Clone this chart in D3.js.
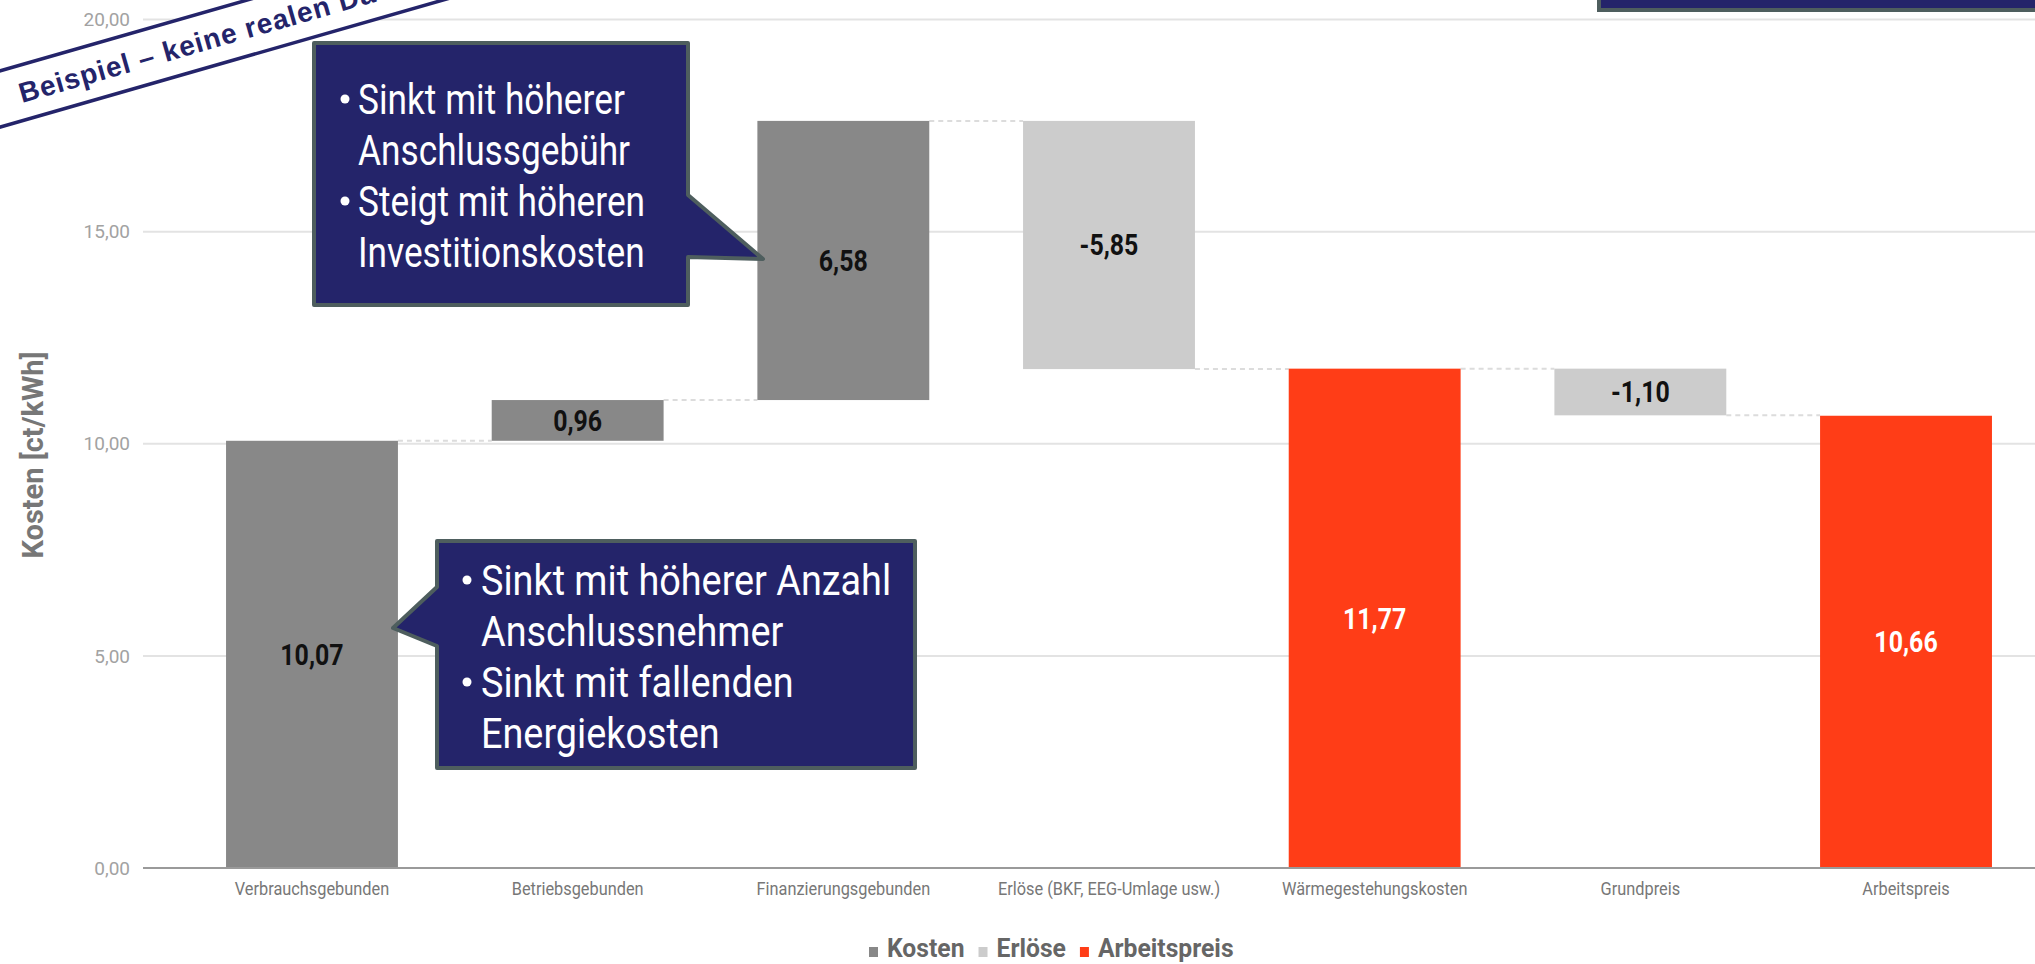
<!DOCTYPE html>
<html>
<head>
<meta charset="utf-8">
<script src="https://cdn.jsdelivr.net/npm/d3@7"></script>
<style>
  html, body { margin: 0; padding: 0; background: #fff; }
  svg { display: block; font-family: Roboto, "Noto Sans", sans-serif; }
</style>
</head>
<body>
<div id="chart"></div>
<script>
// data
const categories = ["Verbrauchsgebunden", "Betriebsgebunden", "Finanzierungsgebunden",
  "Erlöse (BKF, EEG-Umlage usw.)", "Wärmegestehungskosten", "Grundpreis", "Arbeitspreis"];
const values = [10.07, 0.96, 6.58, -5.85, 11.77, -1.10, 10.66];
const kinds = ["Kosten", "Kosten", "Kosten", "Erlöse", "Arbeitspreis", "Erlöse", "Arbeitspreis"];
const isTotal = [false, false, false, false, true, false, true];
const seriesNames = ["Kosten", "Erlöse", "Arbeitspreis"];
const seriesColors = ["#888888", "#cccccc", "#ff3d17"];
const yTicks = [0, 5, 10, 15, 20];
const callout1 = ["Sinkt mit höherer", "Anschlussgebühr", "Steigt mit höheren", "Investitionskosten"];
const callout2 = ["Sinkt mit höherer Anzahl", "Anschlussnehmer", "Sinkt mit fallenden", "Energiekosten"];

const W = 2035, H = 964;
const navy = "#24246a", slate = "#4e5e5e";
const squeeze = 0.86; // fake condensed font

const svg = d3.select("#chart").append("svg")
  .attr("width", W).attr("height", H);

// waterfall steps
let running = 0;
const bars = categories.map((c, i) => {
  let start, end;
  if (isTotal[i]) { start = 0; end = values[i]; }
  else { start = running; end = running + values[i]; }
  running = end;
  return { cat: c, value: values[i], kind: kinds[i], start, end };
});

const x = d3.scaleBand().domain(categories)
  .range([183, 2035]).paddingInner(0.353).paddingOuter(0.162);
const y = d3.scaleLinear().domain([0, 20]).range([868, 19.5]);
const color = d3.scaleOrdinal().domain(seriesNames).range(seriesColors);
const fmt = v => v.toFixed(2).replace(".", ",");

function condensed(sel, px, py, str, sx = squeeze) {
  return sel.append("text")
    .attr("transform", `translate(${px},${py}) scale(${sx},1)`)
    .text(str);
}

// gridlines
svg.append("g").selectAll("line")
  .data(yTicks.filter(d => d > 0))
  .join("line")
  .attr("x1", 143).attr("x2", W)
  .attr("y1", d => y(d)).attr("y2", d => y(d))
  .attr("stroke", "#e3e3e3").attr("stroke-width", 2);

// tick labels
svg.append("g").selectAll("text")
  .data(yTicks)
  .join("text")
  .attr("x", 130).attr("y", d => y(d))
  .attr("dy", "0.35em")
  .attr("text-anchor", "end")
  .attr("fill", "#a2a2a2")
  .style("font-size", "19px")
  .text(d => fmt(d));

// connectors
const conn = svg.append("g");
bars.slice(0, -1).forEach((b, i) => {
  const level = b.end;
  conn.append("line")
    .attr("x1", x(b.cat) + x.bandwidth()).attr("x2", x(categories[i + 1]))
    .attr("y1", y(level)).attr("y2", y(level))
    .attr("stroke", "#dcdcdc").attr("stroke-width", 2)
    .attr("stroke-dasharray", "5,4");
});

// bars
svg.append("g").selectAll("rect")
  .data(bars)
  .join("rect")
  .attr("x", d => x(d.cat))
  .attr("width", x.bandwidth())
  .attr("y", d => y(Math.max(d.start, d.end)))
  .attr("height", d => Math.abs(y(d.start) - y(d.end)))
  .attr("fill", d => color(d.kind));

// baseline
svg.append("line")
  .attr("x1", 143).attr("x2", W)
  .attr("y1", y(0)).attr("y2", y(0))
  .attr("stroke", "#9a9a9a").attr("stroke-width", 2);

// value labels
const vl = svg.append("g")
  .style("font-size", "29px").style("font-weight", "700")
  .attr("text-anchor", "middle");
bars.forEach(b => {
  condensed(vl, x(b.cat) + x.bandwidth() / 2, (y(b.start) + y(b.end)) / 2, fmt(b.value))
    .attr("dy", "0.36em")
    .attr("fill", b.kind === "Arbeitspreis" ? "#ffffff" : "#111111");
});

// x labels
const xl = svg.append("g")
  .style("font-size", "19px").attr("fill", "#777777")
  .attr("text-anchor", "middle");
categories.forEach(c => {
  condensed(xl, x(c) + x.bandwidth() / 2, 888, c).attr("dy", "0.35em");
});

// y axis title
svg.append("text")
  .attr("transform", "translate(33,455) rotate(-90)")
  .attr("text-anchor", "middle").attr("dy", "0.35em")
  .attr("fill", "#777777")
  .style("font-size", "29px").style("font-weight", "700")
  .text("Kosten [ct/kWh]");

// legend
const lg = svg.append("g").style("font-size", "26px").style("font-weight", "700");
const lsx = 0.95;
let lx = 869;
seriesNames.forEach((s, i) => {
  lg.append("rect").attr("x", lx).attr("y", 947).attr("width", 9).attr("height", 10)
    .attr("fill", seriesColors[i]);
  const t = condensed(lg, lx + 18, 957, s, lsx).attr("fill", "#666666");
  lx += 18 + t.node().getComputedTextLength() * lsx + 14;
});

// callouts
function callout(path, lines, tx, bx, y0, sx) {
  const g = svg.append("g");
  g.append("path").attr("d", path)
    .attr("fill", navy).attr("stroke", slate)
    .attr("stroke-width", 4).attr("stroke-linejoin", "round");
  lines.forEach((l, i) => {
    const by = y0 + i * 51;
    if (i % 2 === 0) {
      g.append("circle").attr("cx", bx).attr("cy", by - 15).attr("r", 4.5).attr("fill", "#fff");
    }
    condensed(g, tx, by, l, sx).attr("fill", "#fff").style("font-size", "42px");
  });
}
callout("M314,43 H688 V195 L763,259 L688,257 V305 H314 Z", callout1, 358, 345, 114, 0.84);
callout("M437,541 H915 V768 H437 V646 L393,628 L437,587 Z", callout2, 481, 467, 595, 0.9);

// top right box (cut off)
svg.append("rect").attr("x", 1599).attr("y", -40).attr("width", 500).attr("height", 50)
  .attr("fill", navy).attr("stroke", slate).attr("stroke-width", 4);

// stamp
const stamp = svg.append("g").attr("transform", "translate(0,99) rotate(-16)");
stamp.append("rect").attr("x", -60).attr("y", -27).attr("width", 700).attr("height", 54)
  .attr("fill", "#fff").attr("stroke", navy).attr("stroke-width", 3.5);
stamp.append("text")
  .attr("x", 20).attr("y", 10)
  .attr("fill", navy)
  .style("font-family", "'Liberation Sans', Arial, sans-serif")
  .style("font-size", "28px").style("font-weight", "700")
  .style("letter-spacing", "1px")
  .text("Beispiel – keine realen Daten");
</script>
</body>
</html>
